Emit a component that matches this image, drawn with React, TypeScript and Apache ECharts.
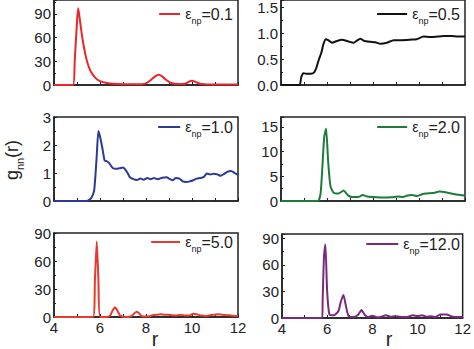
import React, { useEffect, useRef } from 'react';
import * as echarts from 'echarts';

// ε_np = 0.1
const r01 = [4, 4.82, 4.9, 5.0, 5.05, 5.1, 5.2, 5.3, 5.4, 5.5, 5.6, 5.8, 6.0, 6.3, 6.6, 7.0, 7.5, 7.8, 8.0, 8.2, 8.4, 8.55, 8.7, 8.9, 9.1, 9.4, 9.7, 9.85, 10.0, 10.15, 10.35, 10.6, 11, 11.5, 12];
const g01 = [0, 0, 30, 80, 97, 88, 66, 48, 34, 24, 17, 9, 5, 2.5, 1.5, 1, 0.8, 1, 2, 6, 11, 13, 11, 6, 2.5, 1.2, 1.5, 4, 5.5, 4, 1.5, 1, 0.6, 0.5, 0.5];
// ε_np = 0.5
const r05 = [4, 4.8, 4.88, 4.97, 5.1, 5.3, 5.45, 5.55, 5.65, 5.75, 5.85, 5.95, 6.05, 6.22, 6.4, 6.65, 6.9, 7.16, 7.3, 7.45, 7.6, 7.88, 8.1, 8.32, 8.6, 8.9, 9.2, 9.62, 9.9, 10.2, 10.5, 10.8, 11.07, 11.4, 11.7, 12];
const g05 = [0, 0, 0.15, 0.23, 0.22, 0.22, 0.25, 0.35, 0.5, 0.62, 0.8, 0.89, 0.87, 0.82, 0.85, 0.88, 0.85, 0.82, 0.86, 0.9, 0.86, 0.84, 0.83, 0.8, 0.82, 0.87, 0.87, 0.88, 0.89, 0.94, 0.93, 0.94, 0.95, 0.95, 0.94, 0.94];
// ε_np = 1.0
const r10 = [4, 5.4, 5.55, 5.65, 5.75, 5.85, 5.93, 6.0, 6.1, 6.2, 6.3, 6.4, 6.55, 6.7, 6.85, 7.0, 7.1, 7.2, 7.3, 7.45, 7.6, 7.75, 7.9, 8.05, 8.2, 8.35, 8.5, 8.7, 8.9, 9.0, 9.15, 9.3, 9.45, 9.6, 9.75, 9.9, 10.05, 10.2, 10.35, 10.5, 10.65, 10.8, 10.95, 11.1, 11.25, 11.4, 11.55, 11.7, 11.85, 12];
const g10 = [0, 0, 0.05, 0.15, 0.4, 1.5, 2.5, 2.3, 1.9, 1.45, 1.42, 1.35, 1.18, 1.15, 1.17, 1.2, 1.12, 1.0, 0.85, 0.78, 0.75, 0.8, 0.76, 0.82, 0.78, 0.82, 0.78, 0.83, 0.85, 0.8, 0.74, 0.82, 0.8, 0.7, 0.68, 0.7, 0.74, 0.8, 0.82, 0.85, 0.98, 0.95, 0.97, 0.95, 0.9, 0.97, 1.05, 1.07, 1.0, 0.93];
// ε_np = 2.0
const r20 = [4, 5.6, 5.72, 5.8, 5.88, 5.96, 6.05, 6.15, 6.3, 6.5, 6.72, 6.9, 7.1, 7.35, 7.55, 7.75, 8.0, 8.4, 8.8, 9.1, 9.3, 9.5, 9.7, 9.9, 10.1, 10.3, 10.6, 10.9, 11.2, 11.5, 11.8, 12];
const g20 = [0, 0, 1.5, 7, 13, 14.6, 8, 3, 1.6, 1.5, 2.1, 1.2, 0.8, 0.8, 1.2, 0.9, 0.8, 0.7, 0.75, 0.9, 0.8, 1.1, 1.2, 1.0, 1.3, 1.5, 1.6, 1.9, 1.7, 1.4, 1.2, 1.1];
// ε_np = 5.0
const r50 = [4, 5.7, 5.78, 5.86, 5.93, 6.0, 6.3, 6.45, 6.55, 6.65, 6.75, 6.88, 7.2, 7.4, 7.5, 7.6, 7.7, 7.82, 8.1, 8.3, 8.5, 8.65, 8.8, 8.95, 9.1, 9.3, 9.5, 9.7, 9.9, 10.05, 10.2, 10.4, 10.6, 10.8, 11.0, 11.15, 11.3, 11.5, 11.7, 11.9, 12];
const g50 = [0, 0, 40, 81, 40, 0, 0, 2, 7, 10.5, 7, 1.5, 0, 1.5, 4, 5.5, 4, 0.8, 0.5, 2, 2.5, 3, 2.5, 2.5, 2, 1.5, 2.5, 1.5, 1.5, 3.5, 3, 1.5, 1, 2, 2.5, 3, 2.5, 2, 1.5, 1, 1];
// ε_np = 12.0
const r120 = [4, 5.78, 5.8, 5.86, 5.92, 6.0, 6.1, 6.3, 6.5, 6.6, 6.72, 6.82, 6.95, 7.2, 7.38, 7.52, 7.65, 7.8, 8.0, 8.2, 8.4, 8.6, 8.8, 9.0, 9.2, 9.5, 9.8, 10.0, 10.2, 10.4, 10.6, 10.8, 11.0, 11.3, 11.5, 11.7, 12];
const g120 = [0, 0, 20, 70, 83, 30, 4, 3, 8, 18, 26, 15, 2, 1, 4, 9, 4, 1, 2.5, 0.8, 1.5, 3, 1.5, 2, 1.5, 1, 3, 2, 3, 1.5, 2, 1, 4, 4, 2, 1, 1];

const epsLabels = ['0.1', '0.5', '1.0', '2.0', '5.0', '12.0'];
const rSets = [r01, r05, r10, r20, r50, r120];
const gSets = [g01, g05, g10, g20, g50, g120];
const yMax = [107.5, 1.65, 3, 17, 90, 95];
const yInterval = [30, 0.5, 1, 5, 30, 30];
const yDecimals = [0, 1, 0, 0, 0, 0];
const xMin = 4;
const xMax = 12;
const xInterval = 2;

const colors = ['#e8262b', '#111111', '#2b3a96', '#1e7b3b', '#e63a2e', '#7a2a7c'];
const panels = [
  { left: 54, top: -1, width: 184, height: 86 },
  { left: 281, top: -1, width: 184, height: 86 },
  { left: 54, top: 117, width: 184, height: 84 },
  { left: 281, top: 117, width: 184, height: 84 },
  { left: 54, top: 233, width: 184, height: 84 },
  { left: 282, top: 234, width: 183, height: 84 },
];
const legendTops = [6, 6, 119, 119, 234, 236];
const legendLineLen = [21, 30, 22, 30, 29, 32];

const FONT = '"Liberation Sans", Arial, sans-serif';
const AXIS_COLOR = '#222';

export default function App() {
  const ref = useRef<HTMLDivElement>(null);
  useEffect(() => {
    if (!ref.current) return;
    const chart = echarts.init(ref.current, undefined, { renderer: 'svg' });
    const names = epsLabels.map((e) => 'eps' + e);
    const option: any = {
      animation: false,
      backgroundColor: '#fff',
      textStyle: { fontFamily: FONT },
      grid: panels.map((p) => ({
        left: p.left, top: p.top, width: p.width, height: p.height,
        show: true, borderColor: AXIS_COLOR, borderWidth: 1.5, backgroundColor: 'transparent',
      })),
      xAxis: panels.map((p, i) => ({
        type: 'value', gridIndex: i, min: xMin, max: xMax, interval: xInterval,
        axisLine: { show: true, lineStyle: { color: AXIS_COLOR, width: 1.5 } },
        axisTick: { show: true, inside: true, length: 3, lineStyle: { color: AXIS_COLOR, width: 1 } },
        minorTick: { show: true, splitNumber: 2, length: 3, lineStyle: { color: AXIS_COLOR, width: 1 } },
        axisLabel: { show: i >= 4, fontSize: 15, color: '#222', fontFamily: FONT, margin: 3 },
        splitLine: { show: false },
      })),
      yAxis: panels.map((p, i) => ({
        type: 'value', gridIndex: i, min: 0, max: yMax[i], interval: yInterval[i],
        axisLine: { show: true, lineStyle: { color: AXIS_COLOR, width: 1.5 } },
        axisTick: { show: true, inside: true, length: 3, lineStyle: { color: AXIS_COLOR, width: 1 } },
        minorTick: { show: true, splitNumber: 2, length: 2, lineStyle: { color: AXIS_COLOR, width: 1 } },
        axisLabel: {
          fontSize: 15, color: '#222', fontFamily: FONT, margin: 3,
          formatter: (v: number) => {
            const k = Math.round(v / yInterval[i]);
            if (Math.abs(k * yInterval[i] - v) > 1e-6) return '';
            return v.toFixed(yDecimals[i]);
          },
        },
        splitLine: { show: false },
      })),
      legend: panels.map((p, i) => ({
        data: [{ name: names[i], icon: 'rect', itemStyle: { color: colors[i] } }],
        right: 474 - (p.left + p.width) + 5,
        top: legendTops[i],
        itemWidth: legendLineLen[i],
        itemHeight: 2,
        itemGap: 0,
        padding: 0,
        formatter: () => `{e|ε}{s|np}{v|=${epsLabels[i]}}`,
        textStyle: {
          fontFamily: FONT,
          rich: {
            e: { fontSize: 14, color: '#222', fontFamily: FONT },
            s: { fontSize: 9, color: '#222', fontFamily: FONT, verticalAlign: 'bottom', padding: [0, 0, -3, 0] },
            v: { fontSize: 16, color: '#222', fontFamily: FONT },
          },
        },
      })),
      series: panels.map((p, i) => ({
        name: names[i],
        type: 'line',
        xAxisIndex: i,
        yAxisIndex: i,
        symbol: 'none',
        smooth: 0.2,
        lineStyle: { color: colors[i], width: 2 },
        itemStyle: { color: colors[i] },
        data: rSets[i].map((x, j) => [x, gSets[i][j]]),
      })),
      graphic: [
        {
          type: 'text', x: 12, y: 160, rotation: Math.PI / 2,
          style: {
            text: '{a|g}{b|nn}{a|(r)}',
            align: 'center', verticalAlign: 'middle',
            rich: {
              a: { fontSize: 18, fill: '#222', fontFamily: FONT },
              b: { fontSize: 11, fill: '#222', fontFamily: FONT, verticalAlign: 'bottom', padding: [0, 0, -4, 0] },
            },
          },
        },
        { type: 'text', x: 155, y: 339, style: { text: 'r', fontSize: 20, fill: '#222', fontFamily: FONT, align: 'center', verticalAlign: 'middle' } },
        { type: 'text', x: 389, y: 339, style: { text: 'r', fontSize: 20, fill: '#222', fontFamily: FONT, align: 'center', verticalAlign: 'middle' } },
      ],
    };
    chart.setOption(option);
    return () => chart.dispose();
  }, []);
  return <div ref={ref} style={{ position: 'absolute', left: 0, top: 0, width: 474, height: 349 }} />;
}
